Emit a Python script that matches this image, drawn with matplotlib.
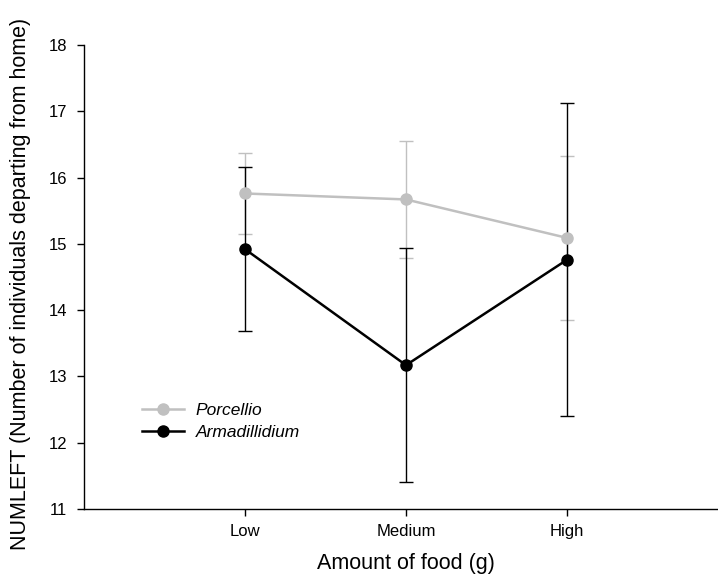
import matplotlib
matplotlib.use("Agg")
import matplotlib.pyplot as plt

plt.rcParams['font.family'] = ['Liberation Sans', 'DejaVu Sans']

# food levels and group means with error values
food = ["Low", "Medium", "High"]
xpos = [1, 2, 3]
porcellio = [15.76, 15.67, 15.09]
porcellio_err = [0.61, 0.88, 1.24]
armadillidium = [14.92, 13.17, 14.76]
armadillidium_err = [1.24, 1.76, 2.36]

grey = "#c0c0c0"

fig = plt.figure(figsize=(7.18, 5.75), dpi=100)
ax = fig.add_axes([84 / 718, 66 / 575, 644 / 718, 464 / 575])

# error bars first, lines and dots on top
ax.errorbar(xpos, porcellio, yerr=porcellio_err, fmt="none", ecolor=grey,
            elinewidth=1.0, capsize=4.8, capthick=1.0, zorder=1)
ax.errorbar(xpos, armadillidium, yerr=armadillidium_err, fmt="none", ecolor="black",
            elinewidth=1.0, capsize=4.8, capthick=1.0, zorder=2)
ax.plot(xpos, porcellio, color=grey, lw=1.8, marker="o", ms=8,
        label="Porcellio", zorder=3)
ax.plot(xpos, armadillidium, color="black", lw=1.8, marker="o", ms=8,
        label="Armadillidium", zorder=4)

ax.set_xlim(0, 4)
ax.set_ylim(11, 18)
ax.set_xticks(xpos)
ax.set_xticklabels(food)
ax.set_yticks(range(11, 19))
ax.tick_params(axis="x", direction="out", length=5, width=1, labelsize=12, pad=6)
ax.tick_params(axis="y", direction="out", length=5, width=1, labelsize=12, pad=7)

for side in ["top", "right"]:
    ax.spines[side].set_visible(False)
for side in ["left", "bottom"]:
    ax.spines[side].set_linewidth(1.0)

ax.set_xlabel("Amount of food (g)", fontsize=15.5, labelpad=10)
ax.set_ylabel("NUMLEFT (Number of individuals departing from home)", fontsize=15.5)
ax.yaxis.set_label_coords(-0.083, 0.486)

leg = ax.legend(loc="upper left", bbox_to_anchor=(0.09, 0.228), frameon=False,
                prop={"style": "italic", "size": 12.5}, handlelength=2.4,
                handletextpad=0.7, borderpad=0, borderaxespad=0, labelspacing=0.4)

fig.savefig("out.png", dpi=100)
